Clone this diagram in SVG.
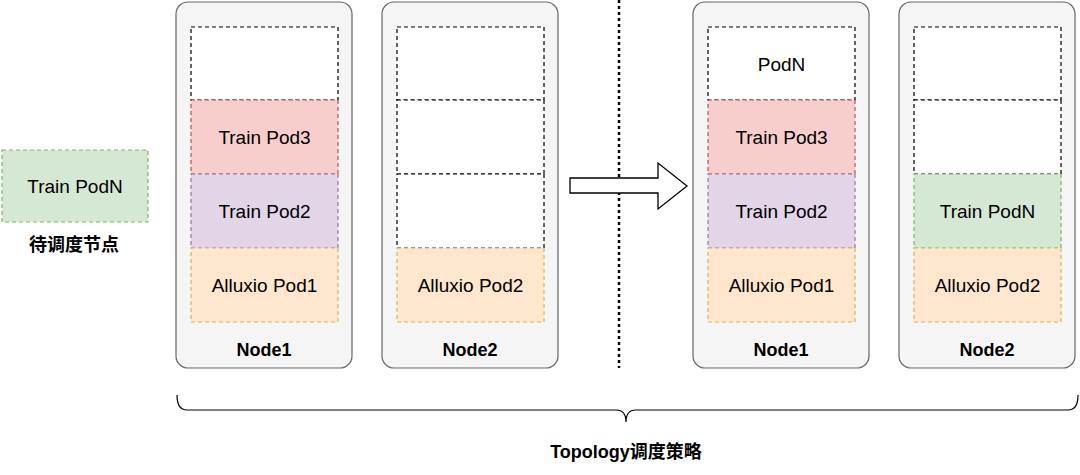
<svg xmlns="http://www.w3.org/2000/svg" width="1080" height="475" viewBox="0 0 1080 475">
<style>
.node{fill:#f5f5f5;stroke:#666;stroke-width:1.2}
.pod{stroke-width:1.2;stroke-dasharray:4 3}
.e{fill:#fff;stroke:#000}
.r{fill:#f8cecc;stroke:#b85450}
.p{fill:#e1d5e7;stroke:#9673a6}
.o{fill:#ffe6cc;stroke:#d6b656}
.g{fill:#d5e8d4;stroke:#82b366}
text{font-family:"Liberation Sans",Arial,"Noto Sans CJK SC",sans-serif;font-size:19px;text-anchor:middle;fill:#000}
.b{font-weight:bold;font-size:18px}
</style>
<rect width="1080" height="475" fill="#fff"/>
<g id="pending">
<rect class="pod g" x="2" y="150" width="146" height="72"/>
<text x="75" y="193">Train PodN</text>
<text class="b" x="74" y="251">待调度节点</text>
</g>
<g id="left-node1">
<rect class="node" x="176" y="2" width="176" height="366" rx="12"/>
<rect class="pod e" x="191" y="27" width="147" height="73"/>
<rect class="pod r" x="191" y="100" width="147" height="74"/><text x="264.5" y="144">Train Pod3</text>
<rect class="pod p" x="191" y="174" width="147" height="74"/><text x="264.5" y="218">Train Pod2</text>
<rect class="pod o" x="191" y="248" width="147" height="74"/><text x="264.5" y="292">Alluxio Pod1</text>
<text class="b" x="264" y="356">Node1</text>
</g>
<g id="left-node2">
<rect class="node" x="382" y="2" width="176" height="366" rx="12"/>
<rect class="pod e" x="397" y="27" width="147" height="73"/>
<rect class="pod e" x="397" y="100" width="147" height="74"/>
<rect class="pod e" x="397" y="174" width="147" height="74"/>
<rect class="pod o" x="397" y="248" width="147" height="74"/><text x="470.5" y="292">Alluxio Pod2</text>
<text class="b" x="470" y="356">Node2</text>
</g>
<g id="right-node1">
<rect class="node" x="693" y="2" width="176" height="366" rx="12"/>
<rect class="pod e" x="708" y="27" width="147" height="73"/><text x="781.5" y="71">PodN</text>
<rect class="pod r" x="708" y="100" width="147" height="74"/><text x="781.5" y="144">Train Pod3</text>
<rect class="pod p" x="708" y="174" width="147" height="74"/><text x="781.5" y="218">Train Pod2</text>
<rect class="pod o" x="708" y="248" width="147" height="74"/><text x="781.5" y="292">Alluxio Pod1</text>
<text class="b" x="781" y="356">Node1</text>
</g>
<g id="right-node2">
<rect class="node" x="899" y="2" width="176" height="366" rx="12"/>
<rect class="pod e" x="914" y="27" width="147" height="73"/>
<rect class="pod e" x="914" y="100" width="147" height="74"/>
<rect class="pod g" x="914" y="174" width="147" height="74"/><text x="987.5" y="218">Train PodN</text>
<rect class="pod o" x="914" y="248" width="147" height="74"/><text x="987.5" y="292">Alluxio Pod2</text>
<text class="b" x="987" y="356">Node2</text>
</g>
<g id="connectors">
<line x1="619" y1="0" x2="619" y2="368" stroke="#000" stroke-width="2.5" stroke-dasharray="3 3"/>
<polygon points="570,178 658,178 658,163 687,186 658,209 658,193 570,193" fill="#fff" stroke="#000" stroke-width="1.3"/>
<path d="M177,395 Q177,410 187,410 L616,410 Q626,410 626,422 Q626,410 636,410 L1068,410 Q1078,410 1078,395" fill="none" stroke="#000" stroke-width="1.2"/>
</g>
<text class="b" x="626" y="458">Topology调度策略</text>
</svg>
